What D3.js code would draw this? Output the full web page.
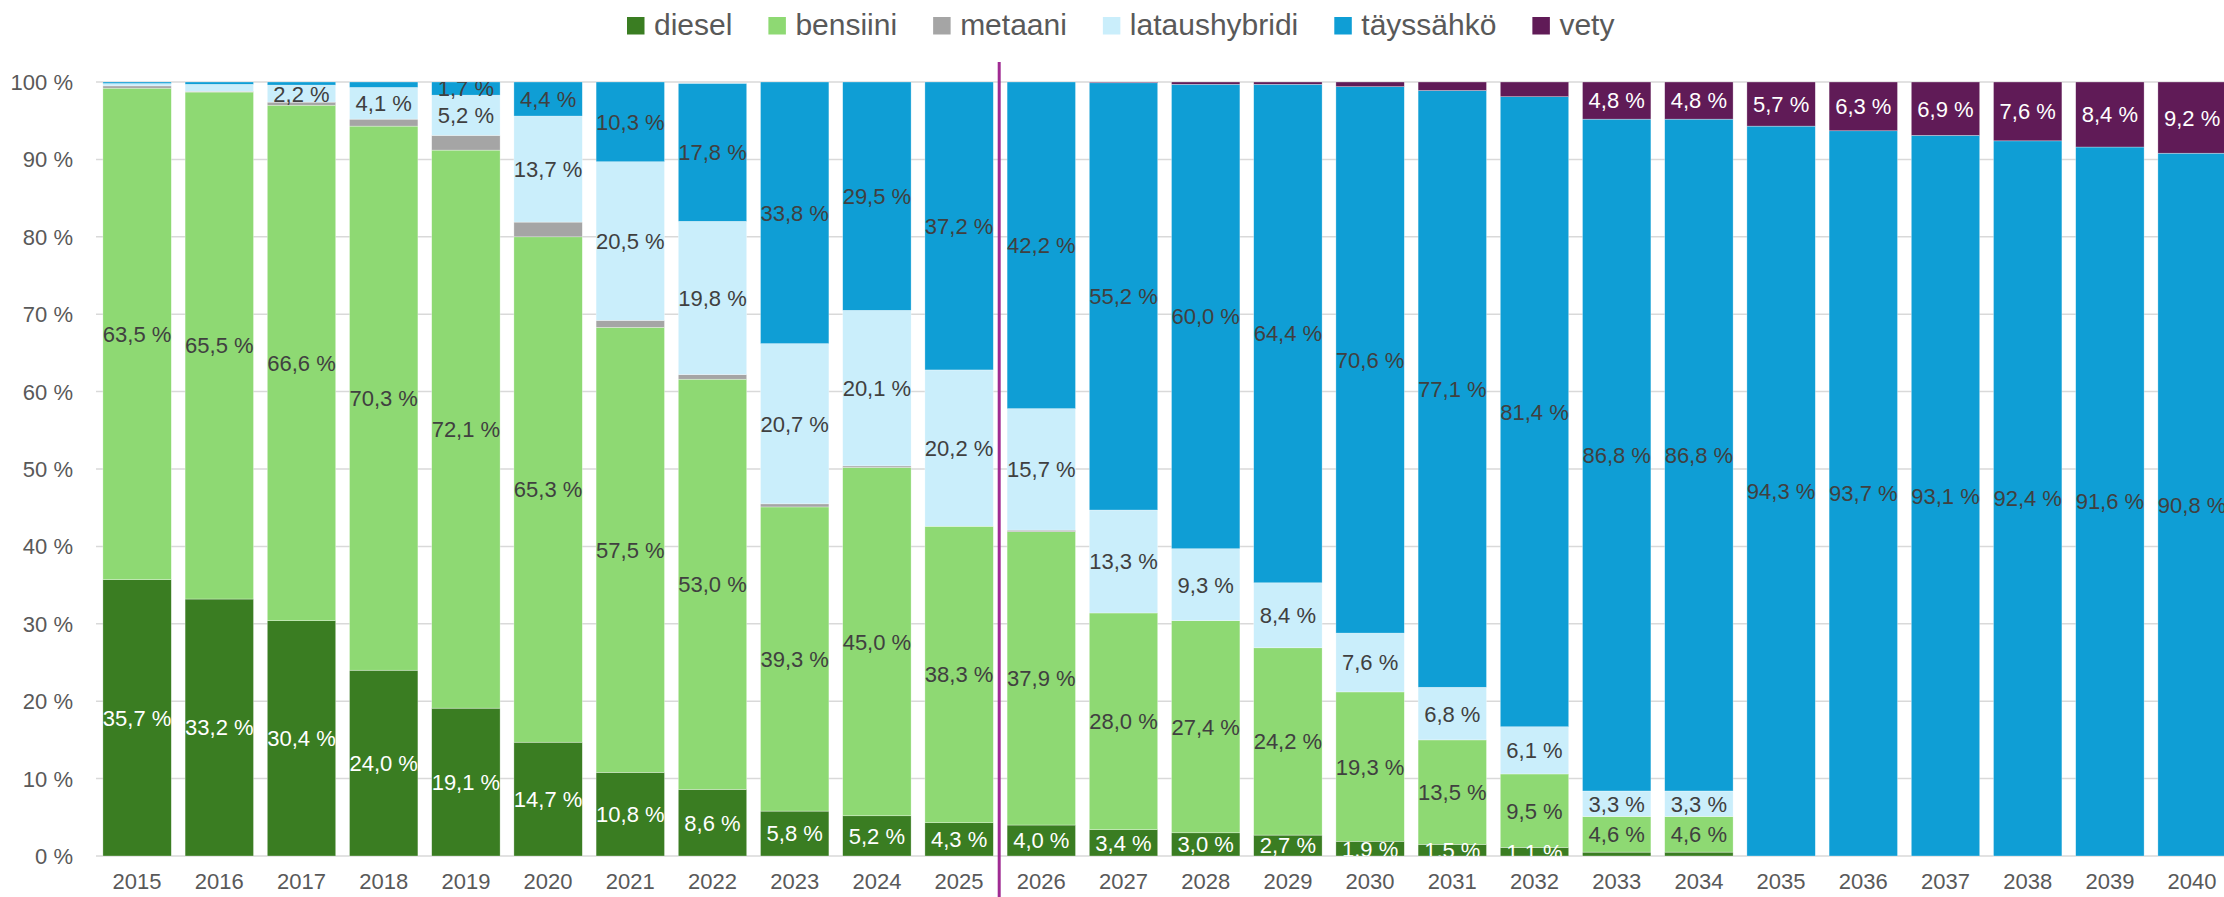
<!DOCTYPE html>
<html>
<head>
<meta charset="utf-8">
<script src="https://cdn.jsdelivr.net/npm/d3@7"></script>
<style>
	body { margin: 0; background: #fff; }
	svg { display: block; font-family: "Liberation Sans", Arial, sans-serif; }
</style>
</head>
<body>
<svg id="chart"></svg>
<script>
const years = [2015, 2016, 2017, 2018, 2019, 2020, 2021, 2022, 2023, 2024, 2025, 2026, 2027,
	2028, 2029, 2030, 2031, 2032, 2033, 2034, 2035, 2036, 2037, 2038, 2039, 2040];

const diesel = [35.7, 33.2, 30.4, 24.0, 19.1, 14.7, 10.8, 8.6, 5.8, 5.2, 4.3, 4.0, 3.4,
	3.0, 2.7, 1.9, 1.5, 1.1, 0.5, 0.5, 0, 0, 0, 0, 0, 0];
const bensiini = [63.5, 65.5, 66.6, 70.3, 72.1, 65.3, 57.5, 53.0, 39.3, 45.0, 38.3, 37.9, 28.0,
	27.4, 24.2, 19.3, 13.5, 9.5, 4.6, 4.6, 0, 0, 0, 0, 0, 0];
const metaani = [0.3, 0.1, 0.4, 0.9, 1.9, 1.9, 0.9, 0.6, 0.4, 0.2, 0, 0.2, 0,
	0, 0, 0, 0, 0, 0, 0, 0, 0, 0, 0, 0, 0];
const lataushybridi = [0.3, 0.9, 2.2, 4.1, 5.2, 13.7, 20.5, 19.8, 20.7, 20.1, 20.2, 15.7, 13.3,
	9.3, 8.4, 7.6, 6.8, 6.1, 3.3, 3.3, 0, 0, 0, 0, 0, 0];
const tayssahko = [0.2, 0.3, 0.4, 0.7, 1.7, 4.4, 10.3, 17.8, 33.8, 29.5, 37.2, 42.2, 55.2,
	60.0, 64.4, 70.6, 77.1, 81.4, 86.8, 86.8, 94.3, 93.7, 93.1, 92.4, 91.6, 90.8];
const vety = [0, 0, 0, 0, 0, 0, 0, 0, 0, 0, 0, 0, 0.1,
	0.3, 0.3, 0.6, 1.1, 1.9, 4.8, 4.8, 5.7, 6.3, 6.9, 7.6, 8.4, 9.2];

const yTicks = [0, 10, 20, 30, 40, 50, 60, 70, 80, 90, 100];
const lastActualYear = 2025;

// series bottom -> top
const series = [
	{key: "diesel", values: diesel, color: "#3A7D22", text: "#ffffff", minLabel: 1},
	{key: "bensiini", values: bensiini, color: "#8ED973", text: "#404040", minLabel: 1},
	{key: "metaani", values: metaani, color: "#A5A5A5", text: "#404040", minLabel: 100},
	{key: "lataushybridi", values: lataushybridi, color: "#CAEEFB", text: "#404040", minLabel: 2},
	{key: "täyssähkö", values: tayssahko, color: "#0F9ED5", text: "#404040", minLabel: 1.5},
	{key: "vety", values: vety, color: "#601B57", text: "#ffffff", minLabel: 4}
];

const W = 2224, H = 897;
const plotLeft = 96, plotTop = 82, plotBottom = 856;
const step = 82.2;

const table = years.map((yr, i) => {
	let row = {year: yr};
	series.forEach(s => row[s.key] = s.values[i]);
	return row;
});

const svg = d3.select("#chart").attr("width", W).attr("height", H);

const x = d3.scaleBand()
	.domain(years)
	.range([plotLeft, plotLeft + step * years.length])
	.paddingInner(0.168)
	.paddingOuter(0.084);

const y = d3.scaleLinear().domain([0, 100]).range([plotBottom, plotTop]);

const pct = v => d3.format(".1f")(v).replace(".", ",") + " %";

svg.append("defs").append("clipPath")
	.attr("id", "plotclip")
	.append("rect")
	.attr("x", 0).attr("y", plotTop)
	.attr("width", W).attr("height", plotBottom - plotTop);

/* grid */
svg.append("g")
	.selectAll("line")
	.data(yTicks)
	.enter()
	.append("line")
	.attr("x1", plotLeft).attr("x2", W)
	.attr("y1", d => y(d)).attr("y2", d => y(d))
	.attr("stroke", "#D9D9D9")
	.attr("stroke-width", 1.5);

/* y axis labels */
svg.append("g")
	.selectAll("text")
	.data(yTicks)
	.enter()
	.append("text")
	.attr("x", 73)
	.attr("y", d => y(d))
	.attr("dy", "0.36em")
	.attr("text-anchor", "end")
	.attr("font-size", 22)
	.attr("fill", "#595959")
	.text(d => d + " %");

/* bars */
const stack = d3.stack().keys(series.map(s => s.key));
const stacked = stack(table);

const layers = svg.append("g")
	.selectAll("g.layer")
	.data(stacked)
	.enter()
	.append("g")
	.attr("class", "layer")
	.attr("fill", (d, i) => series[i].color);

layers.selectAll("rect")
	.data(d => d)
	.enter()
	.append("rect")
	.attr("x", d => x(d.data.year))
	.attr("width", x.bandwidth())
	.attr("y", d => y(d[1]))
	.attr("height", d => Math.max(0, y(d[0]) - y(d[1])))
	.attr("stroke", "#ffffff")
	.attr("stroke-opacity", 0.5)
	.attr("stroke-width", 0.6);

/* data labels */
const labels = svg.append("g").attr("clip-path", "url(#plotclip)");
stacked.forEach((layer, i) => {
	const s = series[i];
	labels.selectAll(null)
		.data(layer.filter(d => d[1] - d[0] >= s.minLabel))
		.enter()
		.append("text")
		.attr("x", d => x(d.data.year) + x.bandwidth() / 2)
		.attr("y", d => y((d[0] + d[1]) / 2))
		.attr("dy", "0.36em")
		.attr("text-anchor", "middle")
		.attr("font-size", 22)
		.attr("fill", s.text)
		.text(d => pct(d[1] - d[0]));
});

/* x axis labels */
svg.append("g")
	.selectAll("text")
	.data(years)
	.enter()
	.append("text")
	.attr("x", d => x(d) + x.bandwidth() / 2)
	.attr("y", 889)
	.attr("text-anchor", "middle")
	.attr("font-size", 22)
	.attr("fill", "#595959")
	.text(d => d);

/* divider between actual and forecast */
const divX = x(lastActualYear) + x.bandwidth() + (x.step() - x.bandwidth()) / 2 - 1;
svg.append("line")
	.attr("x1", divX).attr("x2", divX)
	.attr("y1", 62).attr("y2", H)
	.attr("stroke", "#A02B93")
	.attr("stroke-width", 3);

/* legend */
const legend = svg.append("g").attr("class", "legend");
let lx = 627;
series.forEach(s => {
	legend.append("rect")
		.attr("x", lx).attr("y", 17)
		.attr("width", 17.5).attr("height", 17.5)
		.attr("fill", s.color);
	const t = legend.append("text")
		.attr("x", lx + 27)
		.attr("y", 35)
		.attr("font-size", 30)
		.attr("fill", "#595959")
		.text(s.key);
	lx += 27 + t.node().getComputedTextLength() + 36;
});
</script>
</body>
</html>
